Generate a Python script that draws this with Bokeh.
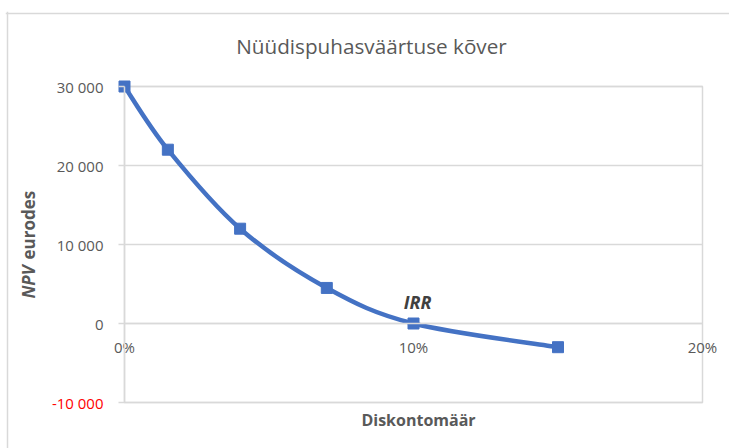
import numpy as np
from bokeh.plotting import figure
from bokeh.models import (Range1d, FixedTicker, LinearAxis, Label, Span,
                          ColumnDataSource)
from bokeh.embed import file_html
from bokeh.resources import INLINE

# ---- data ----
rates = [0.0, 0.015, 0.04, 0.07, 0.10, 0.15]
npv = [30000, 22000, 12000, 4500, 0, -3000]
y_ticks = [-10000, 0, 10000, 20000, 30000]
x_ticks = [0.0, 0.10, 0.20]
x_tick_labels = ["0%", "10%", "20%"]
title_text = "Nüüdispuhasväärtuse kõver"
x_title = "Diskontomäär"
y_title_italic = "NPV"
y_title_rest = "eurodes"
point_label = "IRR"
point_label_index = 4

FONT = "Open Sans"
GRAY = "#595959"
GRID = "#d9d9d9"
BLUE = "#4472C4"

# ---- layout (canvas pixels) ----
W, H = 729, 448
FL, FT = 5, 11          # frame left / top
BORDER_X, BORDER_Y = 7, 13   # chart border lines
PA_LEFT, PA_RIGHT, PA_TOP, PA_BOTTOM = 124, 702, 86, 402   # plot area box

x0, x1 = x_ticks[0], x_ticks[-1]
yb, yt = y_ticks[0], y_ticks[-1]
kx = (PA_RIGHT - PA_LEFT) / (x1 - x0)
ky = (PA_BOTTOM - PA_TOP) / (yt - yb)
x_range = Range1d(x0 - (PA_LEFT - FL) / kx, x1 + (W - PA_RIGHT) / kx)
y_range = Range1d(yb - (H - PA_BOTTOM) / ky, yt + (PA_TOP - FT) / ky)


def at(cx, cy):
    return x0 + (cx - PA_LEFT) / kx, yt - (cy - PA_TOP) / ky


p = figure(width=W, height=H, output_backend="svg", toolbar_location=None,
           x_range=x_range, y_range=y_range,
           x_axis_location=None, y_axis_location=None,
           min_border_left=FL, min_border_right=0, min_border_top=FT,
           min_border_bottom=0, background_fill_color="white",
           border_fill_color="white")
p.outline_line_color = None
p.xgrid.visible = False
p.ygrid.visible = False

# chart border (top and left edges)
bx, by = at(BORDER_X, BORDER_Y)
p.add_layout(Span(location=by, dimension="width", line_color=GRID,
                  line_width=1.5))
p.add_layout(Span(location=bx, dimension="height", line_color=GRID,
                  line_width=1.5))

# plot-area box and horizontal gridlines
p.quad(left=[x0], right=[x1], bottom=[yb], top=[yt], fill_color=None,
       line_color=GRID, line_width=1.5)
p.segment(x0=[x0] * len(y_ticks), x1=[x1] * len(y_ticks), y0=y_ticks,
          y1=y_ticks, line_color=GRID, line_width=1.5)


def fmt(v):
    return f"{v:,}".replace(",", " ")


# main y axis
yaxis = LinearAxis(fixed_location=x0, ticker=FixedTicker(ticks=y_ticks),
                   bounds=(yb, yt))
yaxis.major_label_overrides = {v: ("" if v < 0 else fmt(v)) for v in y_ticks}
yaxis.axis_line_color = GRID
yaxis.axis_line_width = 1.5
yaxis.major_tick_line_color = GRID
yaxis.major_tick_line_width = 1.5
yaxis.major_tick_out = 6
yaxis.major_tick_in = 0
yaxis.minor_tick_line_color = None
yaxis.major_label_standoff = 15
yaxis.major_label_text_font = FONT
yaxis.major_label_text_font_size = "15px"
yaxis.major_label_text_color = GRAY
p.add_layout(yaxis, "left")

# negative tick label in red
neg_ticks = [v for v in y_ticks if v < 0]
yaxis_neg = LinearAxis(fixed_location=x0, ticker=FixedTicker(ticks=neg_ticks),
                       bounds=(yb, yt))
yaxis_neg.major_label_overrides = {v: fmt(v) for v in neg_ticks}
yaxis_neg.axis_line_color = None
yaxis_neg.major_tick_line_color = None
yaxis_neg.minor_tick_line_color = None
yaxis_neg.major_tick_out = 6
yaxis_neg.major_tick_in = 0
yaxis_neg.major_label_standoff = 15
yaxis_neg.major_label_text_font = FONT
yaxis_neg.major_label_text_font_size = "15px"
yaxis_neg.major_label_text_color = "#ff0000"
p.add_layout(yaxis_neg, "left")

# x axis crossing at y = 0
xaxis = LinearAxis(fixed_location=0.0, ticker=FixedTicker(ticks=x_ticks),
                   bounds=(x0, x1))
xaxis.major_label_overrides = dict(zip(x_ticks, x_tick_labels))
xaxis.axis_line_color = GRID
xaxis.axis_line_width = 1.5
xaxis.major_tick_line_color = None
xaxis.minor_tick_line_color = None
xaxis.major_tick_out = 0
xaxis.major_tick_in = 0
xaxis.major_label_standoff = 13
xaxis.major_label_text_font = FONT
xaxis.major_label_text_font_size = "15px"
xaxis.major_label_text_color = GRAY
p.add_layout(xaxis, "below")

# smoothed curve (Catmull-Rom style bezier through the data points)
xs = np.array(rates, dtype=float)
ys = np.array(npv, dtype=float)
qx = np.concatenate([[xs[0]], xs, [xs[-1]]])
qy = np.concatenate([[ys[0]], ys, [ys[-1]]])
i = np.arange(len(xs) - 1)
cx0 = qx[i + 1] + (qx[i + 2] - qx[i]) / 6
cy0 = qy[i + 1] + (qy[i + 2] - qy[i]) / 6
cx1 = qx[i + 2] - (qx[i + 3] - qx[i + 1]) / 6
cy1 = qy[i + 2] - (qy[i + 3] - qy[i + 1]) / 6
seg = ColumnDataSource(dict(x0=xs[:-1], y0=ys[:-1], x1=xs[1:], y1=ys[1:],
                            cx0=cx0, cy0=cy0, cx1=cx1, cy1=cy1))
p.bezier(x0="x0", y0="y0", x1="x1", y1="y1", cx0="cx0", cy0="cy0",
         cx1="cx1", cy1="cy1", source=seg, line_color=BLUE, line_width=4.5,
         line_cap="round")

pts = ColumnDataSource(dict(x=rates, y=npv))
p.scatter(x="x", y="y", source=pts, marker="square", size=11,
          fill_color=BLUE, line_color=BLUE)

# data label
p.add_layout(Label(x=rates[point_label_index], y=npv[point_label_index],
                   text=point_label, x_offset=4, y_offset=22,
                   text_align="center", text_baseline="alphabetic",
                   text_font=FONT, text_font_size="18px",
                   text_font_style="bold italic", text_color="#404040"))

# chart title
tx, ty = at(371, 45)
p.add_layout(Label(x=tx, y=ty, text=title_text, text_align="center",
                   text_baseline="middle", text_font=FONT,
                   text_font_size="20.7px", text_color=GRAY))

# x axis title
tx, ty = at(418, 419)
p.add_layout(Label(x=tx, y=ty, text=x_title, text_align="center",
                   text_baseline="middle", text_font=FONT,
                   text_font_size="16px", text_font_style="bold",
                   text_color=GRAY))

# y axis title (mixed style)
tx, ty = at(28, 298)
p.add_layout(Label(x=tx, y=ty, text=y_title_italic, angle=np.pi / 2,
                   text_align="left", text_baseline="middle", text_font=FONT,
                   text_font_size="17px", text_font_style="bold italic",
                   text_color=GRAY))
tx, ty = at(28, 259)
p.add_layout(Label(x=tx, y=ty, text=y_title_rest, angle=np.pi / 2,
                   text_align="left", text_baseline="middle", text_font=FONT,
                   text_font_size="17px", text_font_style="bold",
                   text_color=GRAY))

open("out.html", "w").write(file_html(p, INLINE))
